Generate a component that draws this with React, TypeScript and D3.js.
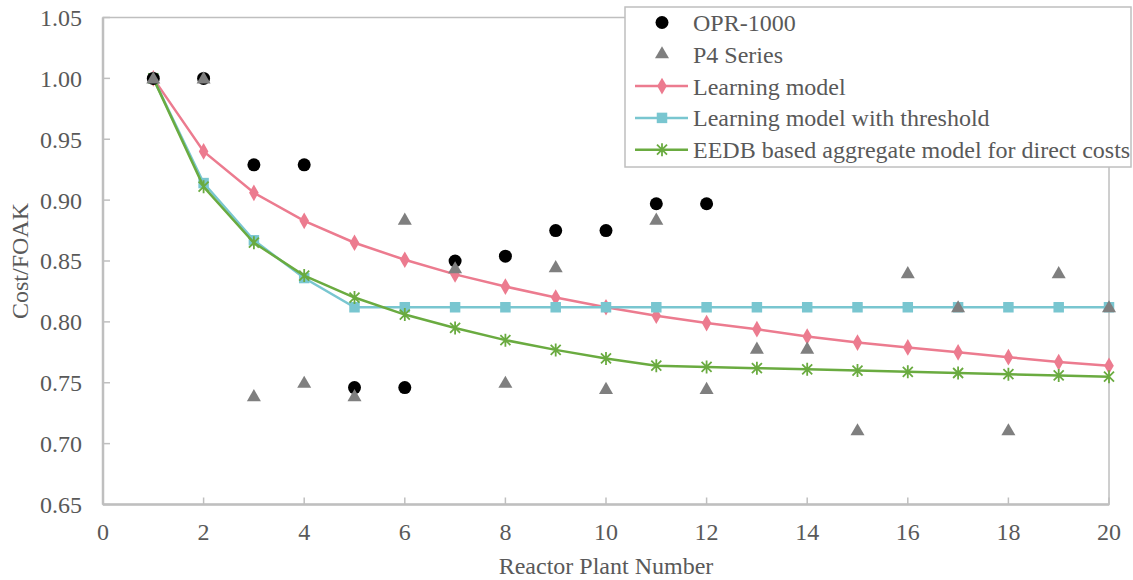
import React from 'react';
import * as d3 from 'd3';

// plant numbers 1..20
const plants = [1, 2, 3, 4, 5, 6, 7, 8, 9, 10, 11, 12, 13, 14, 15, 16, 17, 18, 19, 20];

const opr1000 = [1.0, 1.0, 0.929, 0.929, 0.746, 0.746, 0.85, 0.854, 0.875, 0.875, 0.897, 0.897];
const p4Series = [1.0, 1.0, 0.739, 0.75, 0.739, 0.884, 0.844, 0.75, 0.845, 0.745, 0.884, 0.745,
	0.778, 0.778, 0.711, 0.84, 0.812, 0.711, 0.84, 0.812];
const learning = [1.0, 0.94, 0.906, 0.883, 0.865, 0.851, 0.839, 0.829, 0.82, 0.812, 0.805, 0.799,
	0.794, 0.788, 0.783, 0.779, 0.775, 0.771, 0.767, 0.764];
const threshold = [1.0, 0.914, 0.867, 0.836, 0.812, 0.812, 0.812, 0.812, 0.812, 0.812, 0.812, 0.812,
	0.812, 0.812, 0.812, 0.812, 0.812, 0.812, 0.812, 0.812];
const eedb = [1.0, 0.911, 0.865, 0.838, 0.82, 0.806, 0.795, 0.785, 0.777, 0.77, 0.764, 0.763,
	0.762, 0.761, 0.76, 0.759, 0.758, 0.757, 0.756, 0.755];

const xTicks = [0, 2, 4, 6, 8, 10, 12, 14, 16, 18, 20];
const yTicks = [0.65, 0.7, 0.75, 0.8, 0.85, 0.9, 0.95, 1.0, 1.05];

const legendLabels = ['OPR-1000', 'P4 Series', 'Learning model', 'Learning model with threshold',
	'EEDB based aggregate model for direct costs'];

const W = 1133, H = 580;
const margin = { left: 103, right: 1109, top: 17.5, bottom: 504.5 };
const axisColor = '#bfbfbf';
const textColor = '#595959';
const font = '"Liberation Serif", "Times New Roman", serif';
const fs = 24;

const colors = { pink: '#ec7b8f', cyan: '#79c6d0', green: '#6aab40', gray: '#7f7f7f' };

const x = d3.scaleLinear().domain([0, 20]).range([margin.left, margin.right]);
const y = d3.scaleLinear().domain([0.65, 1.05]).range([margin.bottom, margin.top]);

const diamond = d3.symbol().type(d3.symbolDiamond).size(80)();
const square = d3.symbol().type(d3.symbolSquare).size(110)();
const triangle = d3.symbol().type(d3.symbolTriangle).size(85)();
const star = 'M-5,-5L5,5M-5,5L5,-5M0,-6.5L0,6.5';

function Marker({ kind, cx, cy }: { kind: string; cx: number; cy: number }) {
	const t = `translate(${cx},${cy})`;
	if (kind === 'circle') return <circle cx={cx} cy={cy} r={6.5} fill="#000" />;
	if (kind === 'triangle') return <path d={triangle} transform={t} fill={colors.gray} />;
	if (kind === 'diamond') return <path d={diamond} transform={t} fill={colors.pink} />;
	if (kind === 'square') return <path d={square} transform={t} fill={colors.cyan} />;
	return <path d={star} transform={t} stroke={colors.green} strokeWidth={1.8} fill="none" />;
}

const line = d3.line<number>().x((_, i) => x(plants[i])).y((v) => y(v));

const lineSeries = [
	{ values: learning, color: colors.pink, marker: 'diamond' },
	{ values: threshold, color: colors.cyan, marker: 'square' },
	{ values: eedb, color: colors.green, marker: 'star' }
];

const legendRows = [
	{ label: legendLabels[0], marker: 'circle', color: null },
	{ label: legendLabels[1], marker: 'triangle', color: null },
	{ label: legendLabels[2], marker: 'diamond', color: colors.pink },
	{ label: legendLabels[3], marker: 'square', color: colors.cyan },
	{ label: legendLabels[4], marker: 'star', color: colors.green }
];

export default function App() {
	return (
		<svg width={W} height={H} style={{ position: 'absolute', left: 0, top: 0, background: '#fff' }}
			fontFamily={font}>
			{/* plot frame */}
			<rect x={margin.left} y={margin.top} width={margin.right - margin.left}
				height={margin.bottom - margin.top} fill="none" stroke={axisColor} strokeWidth={1.5} />
			<line x1={margin.left} x2={margin.left} y1={margin.top} y2={margin.bottom} stroke={axisColor} strokeWidth={2.5} />
			<line x1={margin.left} x2={margin.right} y1={margin.bottom} y2={margin.bottom} stroke={axisColor} strokeWidth={2.5} />

			{/* y ticks */}
			{yTicks.map((t) => (
				<g key={'y' + t}>
					<line x1={margin.left} x2={margin.left + 7} y1={y(t)} y2={y(t)} stroke={axisColor} strokeWidth={1.5} />
					<text x={82} y={y(t)} dy="0.35em" textAnchor="end" fontSize={fs} fill={textColor}>
						{d3.format('.2f')(t)}
					</text>
				</g>
			))}
			{/* x ticks */}
			{xTicks.map((t) => (
				<g key={'x' + t}>
					<line x1={x(t)} x2={x(t)} y1={margin.bottom} y2={margin.bottom - 7} stroke={axisColor} strokeWidth={1.5} />
					<text x={x(t)} y={532} dy="0.35em" textAnchor="middle" fontSize={fs} fill={textColor}>
						{t}
					</text>
				</g>
			))}

			<text x={606} y={566} dy="0.35em" textAnchor="middle" fontSize={fs} fill={textColor}>
				Reactor Plant Number
			</text>
			<text transform={`translate(20,261) rotate(-90)`} dy="0.35em" textAnchor="middle" fontSize={fs} fill={textColor}>
				Cost/FOAK
			</text>

			{/* model lines */}
			{lineSeries.map((s) => (
				<g key={s.marker}>
					<path d={line(s.values) || ''} fill="none" stroke={s.color} strokeWidth={2.5} />
					{s.values.map((v, i) => (
						<Marker key={i} kind={s.marker} cx={x(plants[i])} cy={y(v)} />
					))}
				</g>
			))}

			{/* observed plants */}
			{opr1000.map((v, i) => (
				<Marker key={'o' + i} kind="circle" cx={x(plants[i])} cy={y(v)} />
			))}
			{p4Series.map((v, i) => (
				<Marker key={'p' + i} kind="triangle" cx={x(plants[i])} cy={y(v) + 1} />
			))}

			{/* legend */}
			<g>
				<rect x={625} y={7} width={506} height={160} fill="#fff" stroke={axisColor} strokeWidth={1.5} />
				{legendRows.map((r, i) => {
					const ly = 22.5 + i * 31.8;
					return (
						<g key={r.label}>
							{r.color && <line x1={635} x2={688} y1={ly} y2={ly} stroke={r.color} strokeWidth={2.5} />}
							<Marker kind={r.marker} cx={662} cy={ly} />
							<text x={693} y={ly} dy="0.35em" fontSize={fs} fill={textColor}>{r.label}</text>
						</g>
					);
				})}
			</g>
		</svg>
	);
}
